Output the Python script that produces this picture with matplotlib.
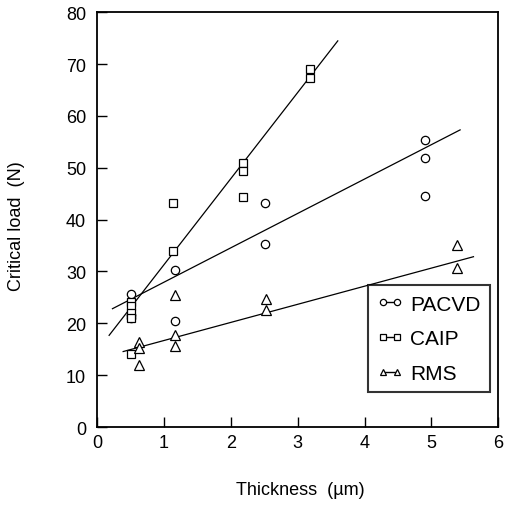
"""Critical load vs coating thickness for PACVD, CAIP and RMS coatings."""
import numpy as np
import matplotlib
matplotlib.use("Agg")
import matplotlib.pyplot as plt

plt.rcParams["font.family"] = ["Liberation Sans", "DejaVu Sans"]

# measured points (thickness um, critical load N)
pacvd_x = [0.51, 0.51, 0.51, 1.16, 1.16, 2.51, 2.51, 4.91, 4.91, 4.90]
pacvd_y = [25.7, 21.7, 21.1, 30.2, 20.4, 43.3, 35.3, 55.3, 51.8, 44.6]

caip_x = [0.51, 0.51, 0.51, 0.51, 0.51, 1.14, 1.13, 2.18, 2.18, 2.18, 3.19, 3.19]
caip_y = [24.2, 23.4, 22.0, 21.1, 14.1, 43.3, 33.9, 51.0, 49.3, 44.3, 69.0, 67.4]

rms_x = [0.63, 0.63, 0.63, 1.16, 1.16, 1.16, 2.53, 2.53, 5.39, 5.39]
rms_y = [11.9, 16.4, 15.2, 25.4, 17.7, 15.7, 24.6, 22.5, 35.1, 30.7]

# fitted lines: slope, intercept, x range
fits = {
    "PACVD": (6.63, 21.3, [0.23, 5.43]),
    "CAIP": (16.6, 14.7, [0.18, 3.60]),
    "RMS": (3.49, 13.2, [0.39, 5.63]),
}

fig = plt.figure(figsize=(5.11, 5.06), dpi=100)
ax = fig.add_axes([0.19, 0.154, 0.785, 0.82])

series = [("PACVD", "o", 6, pacvd_x, pacvd_y),
          ("CAIP", "s", 6, caip_x, caip_y),
          ("RMS", "^", 6.5, rms_x, rms_y)]
for name, m, ms, xs, ys in series:
    ax.plot(xs, ys, m, mfc="white", mec="black", mew=0.9, ms=ms, zorder=3)
    slope, icpt, xr = fits[name]
    xr = np.array(xr)
    ax.plot(xr, slope * xr + icpt, color="black", lw=0.9, zorder=2)
    # legend handle: two small markers joined by a line
    ax.plot([], [], marker=m, label=name, ls="-", lw=1.0, color="black",
            mfc="white", mec="black", mew=0.9, ms=4.5)

ax.set_xlim(0, 6)
ax.set_ylim(0, 80)
ax.set_xticks(range(0, 7))
ax.set_yticks(range(0, 81, 10))
ax.tick_params(direction="in", length=7, width=1, labelsize=13)
ax.tick_params(axis="y", pad=8)
ax.tick_params(axis="x", pad=5)
for s in ax.spines.values():
    s.set_linewidth(1.3)

ax.set_xlabel("Thickness  (µm)", fontsize=13)
ax.set_ylabel("Critical load  (N)", fontsize=13)
ax.xaxis.set_label_coords(0.506, -0.13)
ax.yaxis.set_label_coords(-0.18, 0.487)

leg = ax.legend(loc="lower right", bbox_to_anchor=(0.98, 0.084), borderaxespad=0,
                numpoints=2, handlelength=1.25, handletextpad=0.35, fontsize=15,
                frameon=True, fancybox=False, edgecolor="black", labelspacing=0.75,
                borderpad=0.45)
leg.get_frame().set_linewidth(1.5)

fig.savefig("out.png", dpi=100)
